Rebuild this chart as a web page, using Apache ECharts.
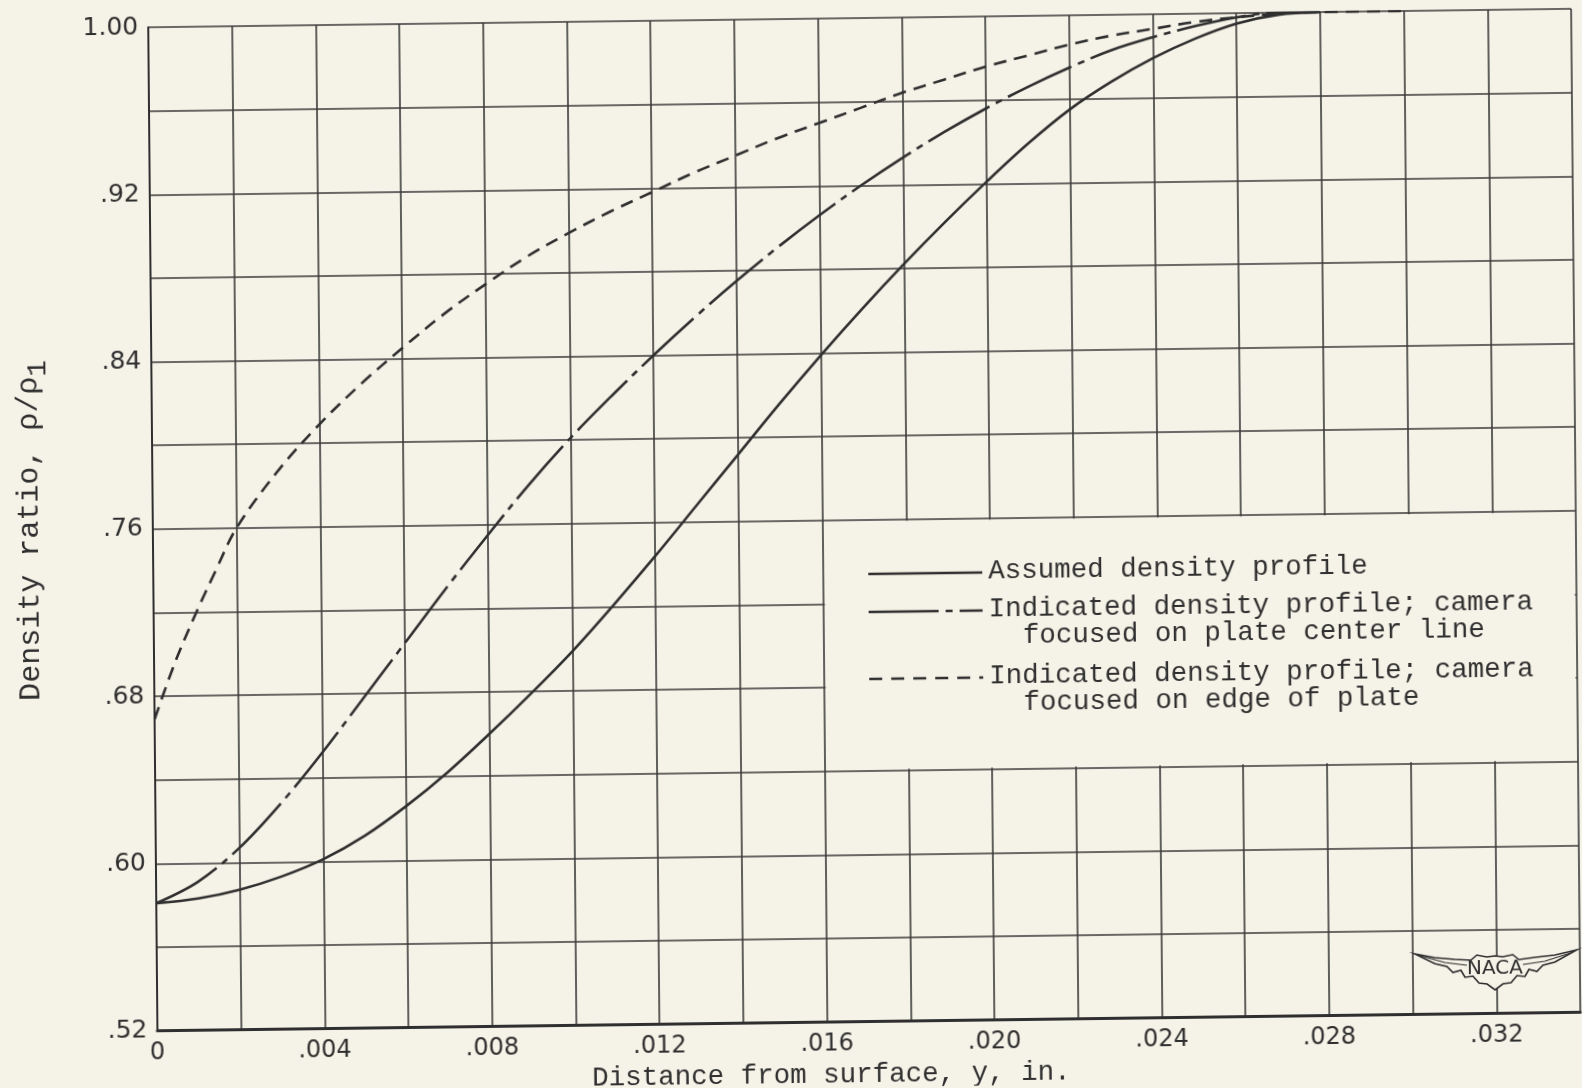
<!DOCTYPE html>
<html>
<head>
<meta charset="utf-8">
<script src="https://cdn.jsdelivr.net/npm/echarts@6/dist/echarts.min.js"></script>
<style>
  html, body { margin: 0; padding: 0; background: #f5f2e7; overflow: hidden; }
  #chart {
    width: 1582px; height: 1088px;
    transform: rotate(-0.745deg) skewX(-0.22deg); transform-origin: 791px 544px;
  }
</style>
</head>
<body>
<div id="chart"></div>
<script>
// Distance from surface y (in.) for the assumed and centre-line profiles
const profileX = [0, 0.001, 0.002, 0.003, 0.004, 0.005, 0.006, 0.007, 0.008, 0.009,
  0.010, 0.011, 0.012, 0.013, 0.014, 0.015, 0.016, 0.017, 0.018, 0.019,
  0.020, 0.021, 0.022, 0.023, 0.024, 0.025, 0.026, 0.027, 0.028];

// Density ratio rho/rho1
const assumedDensity = [0.581, 0.583, 0.587, 0.593, 0.601, 0.612, 0.626, 0.642, 0.660, 0.679,
  0.699, 0.721, 0.744, 0.768, 0.792, 0.816, 0.839, 0.861, 0.882, 0.902,
  0.921, 0.939, 0.955, 0.968, 0.979, 0.988, 0.995, 0.999, 1.000];

const centerLineDensity = [0.581, 0.591, 0.607, 0.628, 0.652, 0.678, 0.704, 0.730, 0.755, 0.779,
  0.801, 0.821, 0.840, 0.858, 0.875, 0.891, 0.906, 0.920, 0.933, 0.945,
  0.956, 0.966, 0.975, 0.983, 0.989, 0.994, 0.998, 1.000, 1.000];

// Camera focused on edge of plate
const edgeX = [0, 0.0005, 0.001, 0.0015, 0.002, 0.003, 0.004, 0.005, 0.006, 0.007,
  0.008, 0.009, 0.010, 0.011, 0.012, 0.013, 0.014, 0.015, 0.016, 0.017,
  0.018, 0.019, 0.020, 0.021, 0.022, 0.023, 0.024, 0.025, 0.026, 0.027,
  0.028, 0.030];
const edgeDensity = [0.669, 0.696, 0.719, 0.740, 0.760, 0.787, 0.809, 0.828, 0.845, 0.861,
  0.875, 0.888, 0.899, 0.909, 0.918, 0.927, 0.935, 0.943, 0.950, 0.957,
  0.964, 0.970, 0.976, 0.981, 0.986, 0.990, 0.993, 0.996, 0.998, 0.9995,
  1.000, 1.000];

// Labelled ticks (every other grid line carries a label)
const xTickLabels = ['0', '.004', '.008', '.012', '.016', '.020', '.024', '.028', '.032'];
const yTickLabels = ['.52', '.60', '.68', '.76', '.84', '.92', '1.00'];

const legendLabels = [
  ['Assumed density profile'],
  ['Indicated density profile; camera', 'focused on plate center line'],
  ['Indicated density profile; camera', 'focused on edge of plate']
];

const PAPER = '#f5f2e7';
const INK = '#2f2f2f';
const GRID_INK = '#3a3a3a';
const MONO = '"Liberation Mono", "DejaVu Sans Mono", monospace';
const LETTER = '"DejaVu Sans", "Liberation Sans", sans-serif';

const dashCenter = [70, 7, 7, 7];
const dashEdge = [13, 8];

function pairs(xs, ys) { return xs.map((x, i) => [x, ys[i]]); }

const chart = echarts.init(document.getElementById('chart'), null, { renderer: 'canvas' });

// Key, drawn over the blank panel on the right
const legendX1 = 868, legendX2 = 982, textX = 988, textX2 = 1022;
const legendRows = [
  { y: 575, dash: null, lines: legendLabels[0] },
  { y: 613, dash: dashCenter, lines: legendLabels[1] },
  { y: 680, dash: [13, 9], lines: legendLabels[2] }
];

const graphics = [];
legendRows.forEach(row => {
  graphics.push({
    type: 'line', z: 100,
    shape: { x1: legendX1, y1: row.y, x2: legendX2, y2: row.y },
    style: row.dash ? { stroke: INK, lineWidth: 2.6, lineDash: row.dash }
                    : { stroke: INK, lineWidth: 2.6 }
  });
  row.lines.forEach((t, i) => {
    graphics.push({
      type: 'text', z: 100,
      x: i === 0 ? textX : textX2,
      y: row.y - 1 + i * 27,
      style: {
        text: t, fontFamily: MONO, fontSize: 27.5, fill: INK,
        align: 'left', verticalAlign: 'middle',
        textAlign: 'left', textVerticalAlign: 'middle'
      }
    });
  });
});

// Winged emblem
const wing = [[-80, -15], [-60, -11], [-40, -9], [-24, -8], [-18, -13], [-8, -11], [0, -12],
  [8, -11], [18, -13], [24, -8], [40, -10], [60, -12], [82, -17],
  [60, -5], [48, -2], [42, 4], [34, 2], [30, 9], [22, 8], [16, 15], [8, 16], [0, 22],
  [-8, 16], [-16, 15], [-22, 8], [-30, 9], [-34, 2], [-42, 4], [-48, -2], [-60, -5]];
graphics.push({
  type: 'group',
  x: 1491, y: 977,
  z: 100,
  children: [
    { type: 'polygon', z: 100, shape: { points: wing },
      style: { fill: PAPER, stroke: INK, lineWidth: 1.6 } },
    { type: 'polyline', z: 101, shape: { points: [[-74, -13], [-50, -6], [-28, -3]] },
      style: { stroke: INK, lineWidth: 1.2, fill: null } },
    { type: 'polyline', z: 101, shape: { points: [[76, -14], [50, -6], [28, -3]] },
      style: { stroke: INK, lineWidth: 1.2, fill: null } },
    { type: 'text', z: 101, x: 0, y: 1,
      style: { text: 'NACA', fontFamily: LETTER, fontSize: 20, fill: INK,
        align: 'center', verticalAlign: 'middle',
        textAlign: 'center', textVerticalAlign: 'middle' } }
  ]
});

const option = {
  backgroundColor: PAPER,
  animation: false,
  grid: {
    left: 153, right: 6, top: 19, bottom: 65.5,
    containLabel: false, outerBoundsMode: 'none'
  },
  xAxis: {
    type: 'value',
    min: 0, max: 0.034, interval: 0.002,
    name: 'Distance from surface, y, in.',
    nameLocation: 'middle',
    nameGap: 37,
    nameTextStyle: { fontFamily: MONO, fontSize: 27.5, color: INK, padding: [0, 76, 0, 0] },
    axisLine: { show: true, lineStyle: { color: INK, width: 3 } },
    axisTick: { show: false },
    splitLine: { show: true, lineStyle: { color: GRID_INK, width: 1.6 } },
    axisLabel: {
      margin: 10, fontFamily: LETTER, fontSize: 24, color: INK,
      formatter: v => {
        const k = Math.round(v / 0.002);
        return k % 2 === 0 ? (xTickLabels[k / 2] || '') : '';
      }
    }
  },
  yAxis: {
    type: 'value',
    min: 0.52, max: 1.00, interval: 0.04,
    name: 'Density ratio, ρ/ρ{s|1}',
    nameLocation: 'middle',
    nameRotate: 90,
    nameGap: 100,
    nameTextStyle: {
      fontFamily: MONO, fontSize: 30, color: INK,
      rich: { s: { fontFamily: MONO, fontSize: 27, color: INK, padding: [18, 0, 0, 0] } }
    },
    axisLine: { show: true, lineStyle: { color: INK, width: 2 } },
    axisTick: { show: false },
    splitLine: { show: true, lineStyle: { color: GRID_INK, width: 1.6 } },
    axisLabel: {
      margin: 10, fontFamily: LETTER, fontSize: 25, color: INK,
      formatter: v => {
        const k = Math.round((v - 0.52) / 0.04);
        return k % 2 === 0 ? (yTickLabels[k / 2] || '') : '';
      }
    }
  },
  series: [
    {
      name: 'Assumed density profile',
      type: 'line', smooth: 0.35, showSymbol: false, silent: true,
      data: pairs(profileX, assumedDensity),
      lineStyle: { color: INK, width: 2.6 },
      z: 3,
      markArea: {
        silent: true,
        itemStyle: { color: PAPER, opacity: 1 },
        data: [[{ coord: [0.01604, 0.7593] }, { coord: [0.03396, 0.6407] }]]
      }
    },
    {
      name: 'Indicated, plate center line',
      type: 'line', smooth: 0.35, showSymbol: false, silent: true,
      data: pairs(profileX, centerLineDensity),
      lineStyle: { color: INK, width: 2.6, type: dashCenter },
      z: 3
    },
    {
      name: 'Indicated, edge of plate',
      type: 'line', smooth: 0.35, showSymbol: false, silent: true,
      data: pairs(edgeX, edgeDensity),
      lineStyle: { color: INK, width: 2.6, type: dashEdge },
      z: 3
    }
  ],
  graphic: graphics
};

chart.setOption(option);
</script>
</body>
</html>
